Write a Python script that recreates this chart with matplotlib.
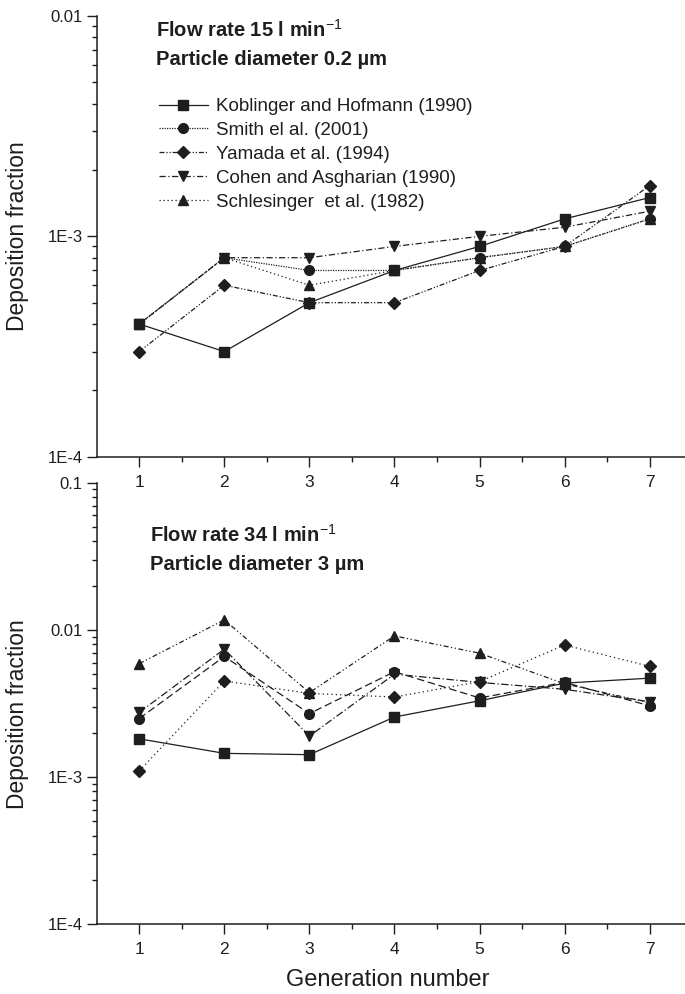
import matplotlib
matplotlib.use("Agg")
import matplotlib.pyplot as plt
from matplotlib.ticker import FixedLocator, FixedFormatter, LogLocator, NullFormatter

plt.rcParams['font.family'] = ['Liberation Sans', 'DejaVu Sans']
plt.rcParams['mathtext.fontset'] = 'custom'
plt.rcParams['mathtext.rm'] = 'Liberation Sans'
plt.rcParams['mathtext.it'] = 'Liberation Sans:italic'
plt.rcParams['mathtext.bf'] = 'Liberation Sans:bold'

generation = [1, 2, 3, 4, 5, 6, 7]
series_names = ["Koblinger and Hofmann (1990)", "Smith el al. (2001)", "Yamada et al. (1994)",
                "Cohen and Asgharian (1990)", "Schlesinger  et al. (1982)"]

# Panel A: flow rate 15 l/min, particle diameter 0.2 um
koblinger_a = [4.0e-4, 3.0e-4, 5.0e-4, 7.0e-4, 9.0e-4, 1.2e-3, 1.5e-3]
smith_a = [4.0e-4, 8.0e-4, 7.0e-4, 7.0e-4, 8.0e-4, 9.0e-4, 1.2e-3]
yamada_a = [3.0e-4, 6.0e-4, 5.0e-4, 5.0e-4, 7.0e-4, 9.0e-4, 1.7e-3]
cohen_a = [4.0e-4, 8.0e-4, 8.0e-4, 9.0e-4, 1.0e-3, 1.1e-3, 1.3e-3]
schlesinger_a = [4.0e-4, 8.0e-4, 6.0e-4, 7.0e-4, 8.0e-4, 9.0e-4, 1.2e-3]

# Panel B: flow rate 34 l/min, particle diameter 3 um
koblinger_b = [1.82e-3, 1.45e-3, 1.42e-3, 2.56e-3, 3.3e-3, 4.35e-3, 4.7e-3]
smith_b = [2.5e-3, 6.6e-3, 2.7e-3, 5.2e-3, 3.45e-3, 4.4e-3, 3.05e-3]
yamada_b = [1.1e-3, 4.5e-3, 3.7e-3, 3.5e-3, 4.45e-3, 7.9e-3, 5.65e-3]
cohen_b = [2.75e-3, 7.4e-3, 1.9e-3, 5.0e-3, 4.4e-3, 3.95e-3, 3.25e-3]
schlesinger_b = [5.9e-3, 1.17e-2, 3.75e-3, 9.1e-3, 6.95e-3, 4.3e-3, 3.2e-3]

ytick_a = [1e-4, 1e-3, 1e-2]
ytick_a_labels = ["1E-4", "1E-3", "0.01"]
ytick_b = [1e-4, 1e-3, 1e-2, 1e-1]
ytick_b_labels = ["1E-4", "1E-3", "0.01", "0.1"]

W, H = 685, 994
fig = plt.figure(figsize=(W / 100, H / 100), dpi=100)

C = '#1e1e1e'
markers = ['s', 'o', 'D', 'v', '^']
msizes = [6.5, 7, 6, 7.5, 7.5]
styles_a = ['-', (0, (1, 1)), (0, (4, 1.5, 1, 1.5, 1, 1.5)), (0, (5, 2, 1, 2)), (0, (1, 2.2))]
styles_b = ['-', (0, (6, 3)), (0, (1, 2.5)), (0, (6, 2, 1, 2)), (0, (4, 2, 1, 2, 1, 2))]

left = 96.7 / W
width = 595.5 / W
ax_a = fig.add_axes([left, (H - 456.7) / H, width, 440.7 / H])
ax_b = fig.add_axes([left, (H - 924.3) / H, width, 441.6 / H])
ax_b.patch.set_visible(False)
ax_a.patch.set_visible(False)

def style_axes(ax, ylim, yt, ytl):
    ax.set_yscale('log')
    ax.set_xlim(0.5, 7.5)
    ax.set_ylim(*ylim)
    for s in ['top', 'right']:
        ax.spines[s].set_visible(False)
    for s in ['left', 'bottom']:
        ax.spines[s].set_linewidth(1.1)
        ax.spines[s].set_color(C)
    ax.xaxis.set_major_locator(FixedLocator(generation))
    ax.xaxis.set_minor_locator(FixedLocator([g + 0.5 for g in generation]))
    ax.yaxis.set_major_locator(FixedLocator(yt))
    ax.yaxis.set_major_formatter(FixedFormatter(ytl))
    ax.yaxis.set_minor_locator(LogLocator(base=10, subs=range(2, 10)))
    ax.yaxis.set_minor_formatter(NullFormatter())
    ax.tick_params(which='major', direction='out', length=7, width=1.0, color=C,
                   labelsize=12, labelcolor=C, pad=3)
    ax.tick_params(which='minor', direction='out', length=3.6, width=1.0, color=C)
    ax.tick_params(axis='x', which='major', pad=6, labelsize=12.5)

style_axes(ax_a, (1e-4, 1e-2), ytick_a, ytick_a_labels)
style_axes(ax_b, (1e-4, 1e-1), ytick_b, ytick_b_labels)

data_a = [koblinger_a, smith_a, yamada_a, cohen_a, schlesinger_a]
data_b = [koblinger_b, smith_b, yamada_b, cohen_b, schlesinger_b]

handles = []
for i, (name, ys) in enumerate(zip(series_names, data_a)):
    h, = ax_a.plot(generation, ys, linestyle=styles_a[i], color=C, lw=0.9,
                   marker=markers[i], ms=msizes[i], mfc=C, mec=C, label=name, clip_on=False)
    handles.append(h)
for i, ys in enumerate(data_b):
    ax_b.plot(generation, ys, linestyle=styles_b[i], color=C, lw=0.9,
              marker=markers[i], ms=msizes[i], mfc=C, mec=C, clip_on=False)

leg = fig.legend(handles=handles, loc='upper left', bbox_to_anchor=(159 / W, 1 - 98 / H),
                 bbox_transform=fig.transFigure, frameon=False, borderpad=0, borderaxespad=0,
                 fontsize=13.5, handlelength=2.6, handletextpad=0.45, labelspacing=0.36)
for t in leg.get_texts():
    t.set_color(C)

fig.text(156 / W, 1 - 37 / H, r'Flow rate 15 l min$^{-1}$', fontsize=14.5, fontweight='bold',
         color=C, ha='left', va='baseline')
fig.text(156 / W, 1 - 65 / H, 'Particle diameter 0.2 µm', fontsize=14.5, fontweight='bold',
         color=C, ha='left', va='baseline')
fig.text(150 / W, 1 - 542 / H, r'Flow rate 34 l min$^{-1}$', fontsize=14.5, fontweight='bold',
         color=C, ha='left', va='baseline')
fig.text(150 / W, 1 - 570 / H, 'Particle diameter 3 µm', fontsize=14.5, fontweight='bold',
         color=C, ha='left', va='baseline')

fig.text(18 / W, 1 - 236 / H, 'Deposition fraction', rotation=90, fontsize=16.5,
         color=C, ha='center', va='center')
fig.text(18 / W, 1 - 714 / H, 'Deposition fraction', rotation=90, fontsize=16.5,
         color=C, ha='center', va='center')
fig.text(388 / W, 1 - 986 / H, 'Generation number', fontsize=17,
         color=C, ha='center', va='baseline')

fig.savefig('out.png', dpi=100)
